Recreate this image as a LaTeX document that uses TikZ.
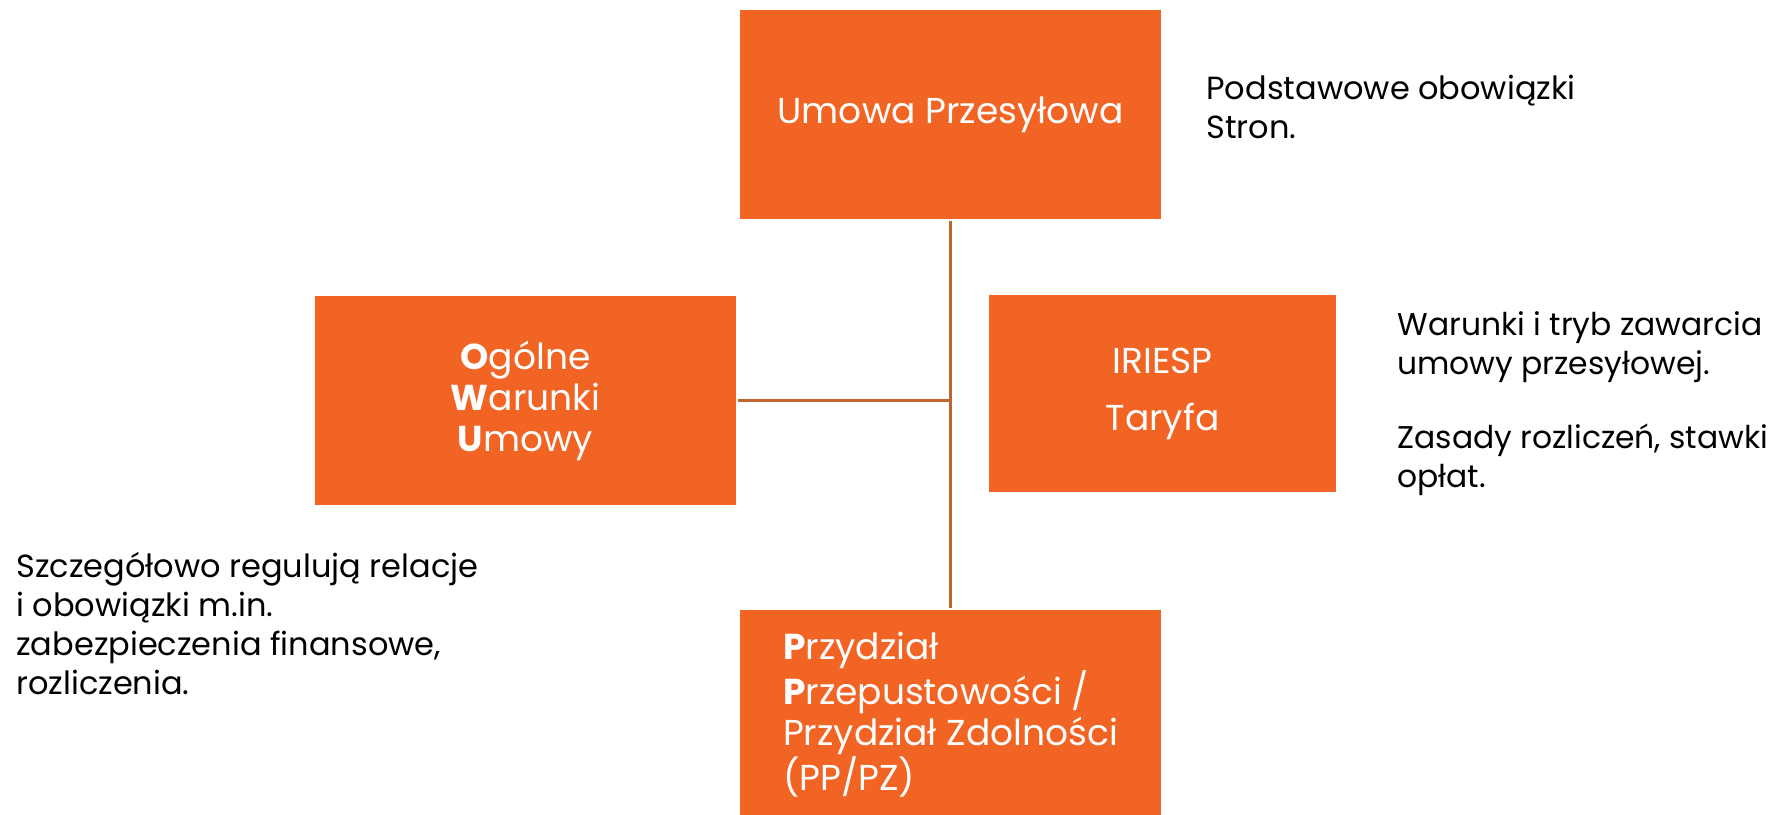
\documentclass[tikz,border=0pt]{standalone}
\usepackage{fontspec}
\setmainfont{Poppins}
\usetikzlibrary{positioning}
\definecolor{pomarancz}{HTML}{F26424}
\definecolor{linia}{HTML}{C0652E}

\begin{document}
\begin{tikzpicture}[x=0.5pt,y=-0.5pt, polacz/.style = {linia,line width=1.2pt,shorten <=1pt,shorten >=1pt}]
    \useasboundingbox (0,0) rectangle (1771,814);
    \tikzstyle{blok}=[rectangle,fill=pomarancz,text=white,inner sep=0pt,font=\fontsize{18}{20.5}\selectfont]
    \tikzstyle{opis}=[align=left,anchor=base west,inner sep=0pt,font=\fontsize{16}{19.5}\selectfont]

    \node[blok,minimum width=210.5pt,minimum height=104.5pt] (umowa) at (950.5,114.5) {Umowa Przesyłowa};
    \node[blok,minimum width=210.5pt,minimum height=104.5pt,align=center] (owu) at (525.5,400.5) {\textbf{O}gólne\\\textbf{W}arunki\\\textbf{U}mowy};
    \node[blok,minimum width=173.5pt,minimum height=98.5pt,align=center] (iriesp) at (1162.5,393.5) {IRIESP\\[8pt]Taryfa};
    \node[blok,minimum width=210.5pt,minimum height=104.5pt,align=left] (pp) at (950.5,714.5) {\textbf{P}rzydział\\\textbf{P}rzepustowości /\\Przydział Zdolności\\(PP/PZ)};

    \node[opis] (podst) at (1206,138) {Podstawowe obowiązki\\Stron.};
    \node[opis,font=\fontsize{15.7}{19.5}\selectfont] (warunki) at (1397,487) {Warunki i tryb zawarcia\\umowy przesyłowej.\\[17.5pt]Zasady rozliczeń, stawki\\opłat.};
    \node[opis] (szczeg) at (16,694) {Szczegółowo regulują relacje\\i obowiązki m.in.\\zabezpieczenia finansowe,\\rozliczenia.};

    \draw[polacz] (umowa) -- (pp);
    \draw[polacz,shorten >=0pt] (owu.east) -- (owu.east -| umowa.south);
\end{tikzpicture}
\end{document}
